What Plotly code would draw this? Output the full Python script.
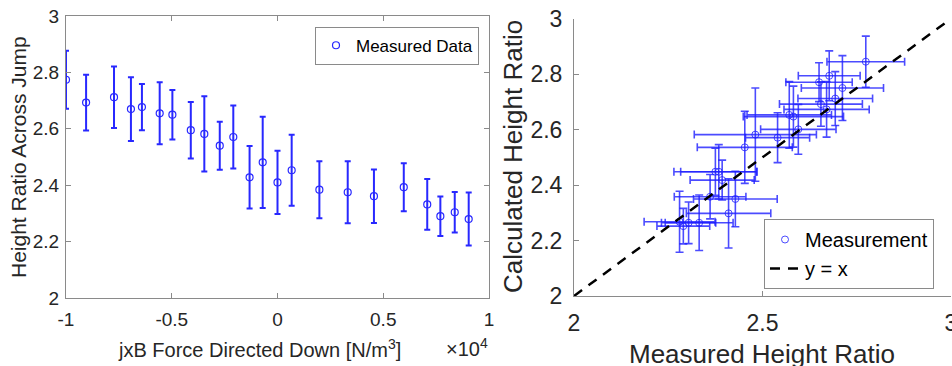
import plotly.graph_objects as go

# ---- Left panel: height ratio vs. jxB force (x in units of 1e4 N/m^3) ----
force = [-1.0, -0.905, -0.773, -0.693, -0.641, -0.557, -0.497, -0.410, -0.346, -0.273,
         -0.209, -0.132, -0.070, 0.0, 0.067, 0.198, 0.332, 0.456, 0.597, 0.708,
         0.770, 0.838, 0.904]
ratio = [2.774, 2.693, 2.712, 2.670, 2.677, 2.655, 2.650, 2.595, 2.582, 2.540,
         2.571, 2.428, 2.481, 2.410, 2.453, 2.384, 2.375, 2.361, 2.393, 2.332,
         2.290, 2.304, 2.280]
ratio_err = [0.103, 0.099, 0.109, 0.113, 0.082, 0.110, 0.088, 0.100, 0.133, 0.085,
             0.112, 0.111, 0.162, 0.112, 0.126, 0.101, 0.110, 0.095, 0.085, 0.090,
             0.070, 0.072, 0.094]

# ---- Right panel: calculated vs measured height ratio ----
measured = ratio
measured_err = ratio_err
calculated = [2.845, 2.712, 2.750, 2.673, 2.794, 2.692, 2.771, 2.601, 2.647, 2.571,
              2.653, 2.350, 2.582, 2.298, 2.536, 2.448, 2.448, 2.358, 2.418, 2.264,
              2.252, 2.264, 2.268]
calculated_err = [0.092, 0.097, 0.117, 0.100, 0.090, 0.080, 0.070, 0.090, 0.110, 0.090,
                  0.120, 0.100, 0.168, 0.125, 0.130, 0.098, 0.085, 0.080, 0.072, 0.100,
                  0.064, 0.075, 0.110]
line_xy = [2, 3]

left_xticks = [-1, -0.5, 0, 0.5, 1]
left_xticktext = ["-1", "-0.5", "0", "0.5", "1"]
yticks = [2, 2.2, 2.4, 2.6, 2.8, 3]
yticktext = ["2", "2.2", "2.4", "2.6", "2.8", "3"]
right_xticks = [2, 2.5, 3]
right_xticktext = ["2", "2.5", "3"]

W, H = 952, 366
FONT = "Liberation Sans, Arial, sans-serif"
TXT = "#262626"
AX = "#8a8a8a"
BLUE = "rgb(40,40,255)"
BLUE2 = "rgba(30,30,255,0.8)"

def px(x):
    return x / W

def py(y):
    return 1 - y / H

fig = go.Figure()

fig.add_trace(go.Scatter(
    x=force, y=ratio, mode="markers", name="Measured Data",
    xaxis="x", yaxis="y", legend="legend",
    marker=dict(symbol="circle-open", size=7, color=BLUE, line=dict(width=1.2, color=BLUE)),
    error_y=dict(type="data", array=ratio_err, visible=True, color=BLUE, thickness=2, width=3),
))

fig.add_trace(go.Scatter(
    x=measured, y=calculated, mode="markers", name="Measurement",
    xaxis="x2", yaxis="y2", legend="legend2",
    marker=dict(symbol="circle-open", size=7, color=BLUE2, line=dict(width=1, color=BLUE2)),
    error_y=dict(type="data", array=calculated_err, visible=True, color=BLUE2, thickness=1.6, width=4),
    error_x=dict(type="data", array=measured_err, visible=True, color=BLUE2, thickness=1.6, width=4),
))

fig.add_trace(go.Scatter(
    x=line_xy, y=line_xy, mode="lines", name="y = x",
    xaxis="x2", yaxis="y2", legend="legend2",
    line=dict(color="black", width=2.5, dash="10px,8px"),
))

axis_common = dict(showgrid=False, zeroline=False, showline=True, linecolor=AX, linewidth=1,
                   ticks="inside", tickcolor=AX, ticklen=5, tickwidth=1, automargin=False,
                   ticklabeloverflow="allow")

fig.update_layout(
    width=W, height=H,
    margin=dict(l=0, r=0, t=0, b=0, autoexpand=False),
    paper_bgcolor="white", plot_bgcolor="white",
    font=dict(family=FONT, color=TXT),
    xaxis=dict(domain=[px(66), px(489)], range=[-1, 1], tickvals=left_xticks, ticktext=left_xticktext,
               mirror="ticks", anchor="y", tickfont=dict(size=19), ticklabelstandoff=4, **axis_common),
    yaxis=dict(domain=[py(298), py(16)], range=[2, 3], tickvals=yticks, ticktext=yticktext,
               mirror="ticks", anchor="x", tickfont=dict(size=19), ticklabelstandoff=2, **axis_common),
    xaxis2=dict(domain=[px(574), px(951)], range=[2, 3], tickvals=right_xticks, ticktext=right_xticktext,
                anchor="y2", tickfont=dict(size=23), ticklabelstandoff=6, **axis_common),
    yaxis2=dict(domain=[py(296), py(18.7)], range=[2, 3], tickvals=yticks, ticktext=yticktext,
                anchor="x2", tickfont=dict(size=23), ticklabelstandoff=6, **axis_common),
    legend=dict(x=px(479), y=py(26.7), xanchor="right", yanchor="top",
                bgcolor="white", bordercolor="#8a8a8a", borderwidth=1,
                font=dict(size=17, color="black"), itemwidth=30),
    legend2=dict(x=px(764), y=py(289), xanchor="left", yanchor="bottom",
                 bgcolor="white", bordercolor="#8a8a8a", borderwidth=1,
                 font=dict(size=20, color="black"), itemwidth=30, tracegroupgap=0),
    showlegend=True,
)

annots = [
    dict(text="Height Ratio Across Jump", x=px(19), y=py(157), textangle=-90, size=21),
    dict(text="jxB Force Directed Down [N/m<sup>3</sup>]", x=px(259), y=py(348), size=20),
    dict(text="×10<sup>4</sup>", x=px(490), y=py(347), xanchor="right", size=20),
    dict(text="Calculated Height Ratio", x=px(513), y=py(157), textangle=-90, size=26),
    dict(text="Measured Height Ratio", x=px(762), y=py(354), size=26),
]
for a in annots:
    a.setdefault("xanchor", "center")
    size = a.pop("size")
    fig.add_annotation(xref="paper", yref="paper", showarrow=False, yanchor="middle",
                       font=dict(family=FONT, color=TXT, size=size), **a)

fig.write_html("out.html", config={"displayModeBar": False},
               post_script="document.body.style.margin='0px';document.body.style.overflow='hidden';")
